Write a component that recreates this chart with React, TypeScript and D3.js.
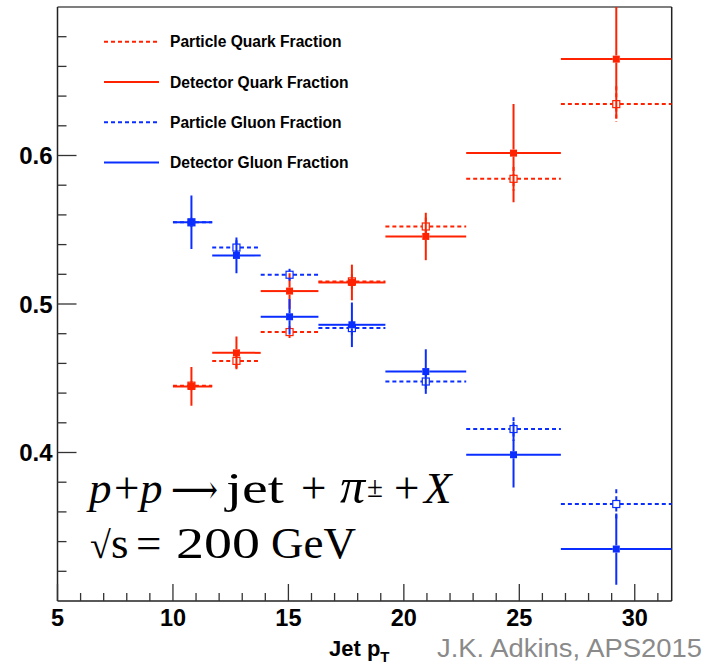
import React from "react";
import * as d3 from "d3";

// Bin edges (jet pT) and bin centres
const binLow = [10, 11.7, 13.8, 16.3, 19.2, 22.7, 26.8];
const binHigh = [11.7, 13.8, 16.3, 19.2, 22.7, 26.8, 31.6];
const binCenter = [10.8, 12.75, 15.05, 17.75, 20.95, 24.75, 29.2];

// Series values and errors
const particleQuark = [0.445, 0.4617, 0.4811, 0.5152, 0.5522, 0.5843, 0.6346];
const particleQuarkErr = [0.003, 0.005, 0.004, 0.005, 0.006, 0.008, 0.012];
const detectorQuark = [0.4445, 0.4671, 0.5087, 0.5145, 0.5455, 0.6016, 0.6649];
const detectorQuarkErr = [0.013, 0.011, 0.012, 0.012, 0.016, 0.033, 0.04];
const particleGluon = [0.555, 0.538, 0.5197, 0.4838, 0.4478, 0.4158, 0.3653];
const particleGluonErr = [0.003, 0.005, 0.004, 0.005, 0.006, 0.008, 0.01];
const detectorGluon = [0.555, 0.5327, 0.4914, 0.486, 0.4545, 0.3985, 0.335];
const detectorGluonErr = [0.018, 0.012, 0.012, 0.015, 0.015, 0.022, 0.024];

const xMajorTicks = [5, 10, 15, 20, 25, 30];
const yMajorTicks = [0.4, 0.5, 0.6];

const RED = "#ff2200";
const BLUE = "#0a2eff";

const series = [
  { name: "Particle Quark Fraction", vals: particleQuark, errs: particleQuarkErr, color: RED, dashed: true, filled: false },
  { name: "Detector Quark Fraction", vals: detectorQuark, errs: detectorQuarkErr, color: RED, dashed: false, filled: true },
  { name: "Particle Gluon Fraction", vals: particleGluon, errs: particleGluonErr, color: BLUE, dashed: true, filled: false },
  { name: "Detector Gluon Fraction", vals: detectorGluon, errs: detectorGluonErr, color: BLUE, dashed: false, filled: true },
];

const L = 57.5, R = 671.7, T = 7, B = 601;

export default function App() {
  const x = d3.scaleLinear().domain([5, 31.6]).range([L, R]);
  const y = d3.scaleLinear().domain([0.3, 0.7]).range([B, T]);
  const xMinor = d3.range(6, 32, 1).filter((v) => v % 5 !== 0);
  const yMinor = d3.range(0.32, 0.7, 0.02).filter((v) => Math.abs(v * 10 - Math.round(v * 10)) > 1e-6);
  const half = 3.5;
  const sans = "'Liberation Sans', Arial, Helvetica, sans-serif";
  const serif = "'Liberation Serif', 'Times New Roman', serif";

  return (
    <svg width={715} height={667} style={{ position: "absolute", left: 0, top: 0, background: "#fff" }}>
      <defs>
        <clipPath id="plotclip">
          <rect x={L} y={T} width={R - L} height={B - T} />
        </clipPath>
      </defs>
      {/* frame */}
      <line x1={L} x2={R} y1={T} y2={T} stroke="#555" strokeWidth={1.5} />
      <line x1={R} x2={R} y1={T} y2={B} stroke="#222" strokeWidth={1.5} />
      <line x1={L} x2={L} y1={T} y2={B} stroke="#222" strokeWidth={1.5} />
      <line x1={L} x2={R} y1={B} y2={B} stroke="#222" strokeWidth={1.5} />
      {/* y ticks */}
      {yMajorTicks.map((v) => (
        <g key={"ym" + v}>
          <line x1={L} x2={L + 19} y1={y(v)} y2={y(v)} stroke="#333" strokeWidth={1.3} />
          <text x={52.5} y={y(v)} dy="0.36em" textAnchor="end" fontFamily={sans} fontWeight="bold" fontSize={24}>
            {d3.format(".1f")(v)}
          </text>
        </g>
      ))}
      {yMinor.map((v) => (
        <line key={"yn" + v} x1={L} x2={L + 9} y1={y(v)} y2={y(v)} stroke="#333" strokeWidth={1.3} />
      ))}
      {/* x ticks */}
      {xMajorTicks.map((v) => (
        <g key={"xm" + v}>
          <line x1={x(v)} x2={x(v)} y1={B} y2={B - 17} stroke="#333" strokeWidth={1.3} />
          <text x={x(v)} y={626} textAnchor="middle" fontFamily={sans} fontWeight="bold" fontSize={23.5}>
            {v}
          </text>
        </g>
      ))}
      {xMinor.map((v) => (
        <line key={"xn" + v} x1={x(v)} x2={x(v)} y1={B} y2={B - 8} stroke="#333" strokeWidth={1.3} />
      ))}
      {/* axis title */}
      <text x={329} y={656} fontFamily={sans} fontWeight="bold" fontSize={22}>
        Jet p<tspan fontSize={15} dy={6}>T</tspan>
      </text>
      {/* data */}
      <g clipPath="url(#plotclip)">
        {series.map((s, si) => (
          <g key={"s" + si} stroke={s.color} strokeWidth={2} strokeDasharray={s.dashed ? "4,3" : undefined} fill="none">
            {s.vals.map((v, i) => {
              const cx = x(binCenter[i]);
              const cy = y(v);
              const x0 = x(binLow[i]);
              const x1 = x(binHigh[i]);
              const yt = y(v + s.errs[i]);
              const yb = y(v - s.errs[i]);
              return (
                <g key={i}>
                  <line x1={x0} x2={cx - half} y1={cy} y2={cy} />
                  <line x1={cx + half} x2={x1} y1={cy} y2={cy} />
                  {yt < cy - half && <line x1={cx} x2={cx} y1={yt} y2={cy - half} />}
                  {yb > cy + half && <line x1={cx} x2={cx} y1={cy + half} y2={yb} />}
                  {s.filled ? (
                    <rect x={cx - half} y={cy - half} width={half * 2} height={half * 2} fill={s.color} stroke="none" />
                  ) : (
                    <rect x={cx - half} y={cy - half} width={half * 2} height={half * 2} fill="none" stroke={s.color} strokeWidth={1.2} strokeDasharray="none" />
                  )}
                </g>
              );
            })}
          </g>
        ))}
      </g>
      {/* legend */}
      {series.map((s, i) => {
        const ly = 41.7 + i * 40.3;
        return (
          <g key={"lg" + i}>
            <line x1={104} x2={159} y1={ly} y2={ly} stroke={s.color} strokeWidth={2} strokeDasharray={s.dashed ? "4,3" : undefined} />
            <text x={170} y={ly} dy="0.36em" fontFamily={sans} fontWeight="bold" fontSize={15.6}>
              {s.name}
            </text>
          </g>
        );
      })}
      {/* annotation line 1 */}
      <g fontFamily={serif} fontSize={45} fill="#000">
        <text x={89} y={503} fontStyle="italic">p</text>
        <text x={114} y={503}>+</text>
        <text x={140} y={503} fontStyle="italic">p</text>
        <text x={171} y={503} fontFamily="'DejaVu Serif', 'DejaVu Sans', serif" fontSize={40} textLength={47} lengthAdjust="spacingAndGlyphs">⟶</text>
        <text x={226} y={503} textLength={58} lengthAdjust="spacingAndGlyphs">jet</text>
        <text x={301} y={503}>+</text>
        <text x={340} y={503} fontStyle="italic" fontSize={50}>π</text>
        <text x={367} y={497} fontSize={29}>±</text>
        <text x={394} y={503}>+</text>
        <text x={424} y={503} fontStyle="italic">X</text>
      </g>
      {/* annotation line 2 */}
      <g fontFamily={serif} fontSize={45} fill="#000">
        <text x={90} y={558} fontSize={38}>√</text>
        <text x={111} y={558}>s</text>
        <text x={136} y={558}>=</text>
        <text x={176} y={558} textLength={84} lengthAdjust="spacingAndGlyphs">200</text>
        <text x={271} y={558}>GeV</text>
      </g>
      {/* credit */}
      <text x={437} y={657} fontFamily={sans} fontSize={25} fill="#8a8a8a" textLength={265} lengthAdjust="spacingAndGlyphs">
        J.K. Adkins, APS2015
      </text>
    </svg>
  );
}
